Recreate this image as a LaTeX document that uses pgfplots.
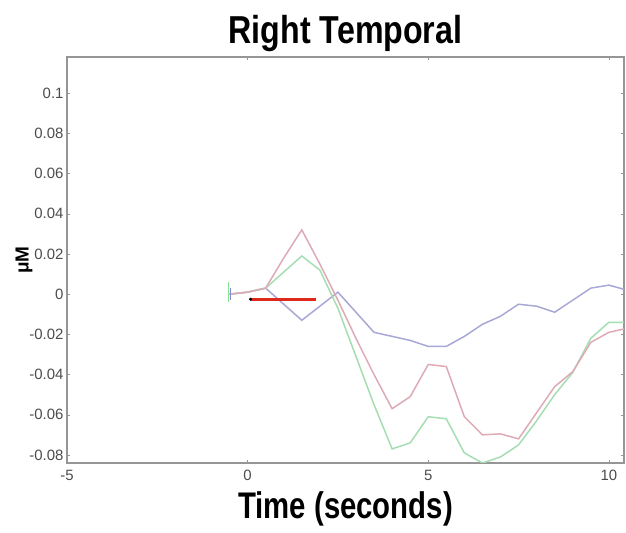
\documentclass[border=0pt]{standalone}
\usepackage{pgfplots}
\pgfplotsset{compat=1.18}
\usepackage{fontspec}
\setmainfont{Liberation Sans}

\definecolor{pinkline}{RGB}{222,170,182}
\definecolor{greenline}{RGB}{165,222,178}
\definecolor{blueline}{RGB}{168,168,214}
\definecolor{axgray}{RGB}{150,150,150}
\definecolor{redbar}{RGB}{222,40,28}

\begin{document}
\begin{tikzpicture}[x=1bp,y=1bp]
\useasboundingbox (-67,-70) rectangle (559,463);
\begin{axis}[
    at={(0,0)}, anchor=south west,
    scale only axis,
    width=557bp, height=406bp,
    xmin=-5, xmax=10.42,
    ymin=-0.084, ymax=0.118,
    xtick={-5,0,5,10},
    ytick={-0.08,-0.06,-0.04,-0.02,0,0.02,0.04,0.06,0.08,0.1},
    yticklabels={-0.08,-0.06,-0.04,-0.02,0,0.02,0.04,0.06,0.08,0.1},
    tick align=inside,
    major tick length=3bp,
    axis line style={axgray, line width=1.2pt},
    every tick/.style={axgray},
    tick label style={font=\fontsize{15}{15}\selectfont, text=black!70},
    xticklabel style={yshift=-4bp},
    /pgf/number format/assume math mode=true,
    title={\scalebox{0.95}[1.15]{\bfseries Right Temporal}},
    title style={font=\fontsize{34}{34}\selectfont, yshift=-4bp},
    xlabel={\scalebox{0.95}[1.2]{\bfseries Time (seconds)}},
    xlabel style={font=\fontsize{31}{31}\selectfont, yshift=-4bp},
    ylabel={\bfseries μM},
    ylabel style={font=\fontsize{19}{19}\selectfont, yshift=-10bp},
    axis background/.style={fill=white},
]
% blue
\addplot[blueline, line width=1.5pt] coordinates {
 (-0.5,0) (0,0.001) (0.5,0.003) (1,-0.005) (1.5,-0.013) (2,-0.006) (2.5,0.001)
 (3,-0.009) (3.5,-0.019) (4,-0.021) (4.5,-0.023) (5,-0.026) (5.5,-0.026)
 (6,-0.021) (6.5,-0.015) (7,-0.011) (7.5,-0.005) (8,-0.006) (8.5,-0.009)
 (9,-0.003) (9.5,0.003) (10,0.0045) (10.5,0.002)
};
% green
\addplot[greenline, line width=1.5pt] coordinates {
 (-0.5,0) (0,0.001) (0.5,0.003) (1,0.011) (1.5,0.019) (2,0.012) (2.5,-0.007)
 (3,-0.031) (3.5,-0.055) (4,-0.077) (4.5,-0.074) (5,-0.061) (5.5,-0.062)
 (6,-0.079) (6.5,-0.084) (7,-0.081) (7.5,-0.075) (8,-0.063) (8.5,-0.050)
 (9,-0.039) (9.5,-0.022) (10,-0.014) (10.5,-0.014)
};
% pink
\addplot[pinkline, line width=1.5pt] coordinates {
 (-0.5,0) (0,0.001) (0.5,0.003) (1,0.018) (1.5,0.032) (2,0.015) (2.5,-0.003)
 (3,-0.022) (3.5,-0.040) (4,-0.057) (4.5,-0.051) (5,-0.035) (5.5,-0.036)
 (6,-0.061) (6.5,-0.070) (7,-0.0695) (7.5,-0.072) (8,-0.059) (8.5,-0.046)
 (9,-0.0386) (9.5,-0.024) (10,-0.019) (10.5,-0.017)
};
% error bars at start
\addplot[greenline!80!green, line width=1pt, mark=none, forget plot,
  error bars/.cd, y dir=both, y explicit, error bar style={line width=1pt},
  error mark options={mark size=0pt}] coordinates {(-0.52,0.001) +- (0,0.005)};
\addplot[blueline!80!blue, line width=1pt, mark=none, forget plot,
  error bars/.cd, y dir=both, y explicit, error bar style={line width=1pt},
  error mark options={mark size=0pt}] coordinates {(-0.48,0) +- (0,0.003)};
% red bar
\addplot[redbar, line width=3pt] coordinates {(0.08,-0.0025) (1.88,-0.0025)};
\addplot[black, only marks, mark=*, mark size=1.3pt] coordinates {(0.08,-0.0025)};
\end{axis}
\end{tikzpicture}
\end{document}
